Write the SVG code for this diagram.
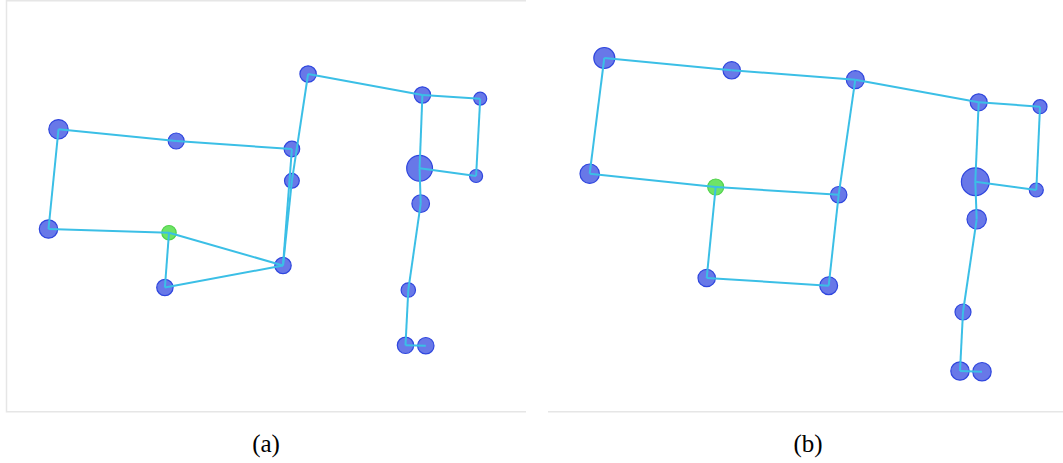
<svg xmlns="http://www.w3.org/2000/svg" width="1063" height="463" viewBox="0 0 1063 463">
<style>
.n{fill:#6878e8;stroke:#2f46de;stroke-width:1.2}
.g{fill:#6ee466;stroke:#52d24c;stroke-width:1.2}
.e{stroke:#3bbfe6;stroke-width:2;fill:none;stroke-linecap:butt}
.frame{stroke:#e6e6e6;stroke-width:1.5;fill:none}
.lbl{font-family:"Liberation Serif","Times New Roman",serif;font-size:25px;fill:#000;text-anchor:middle}
</style>
<rect width="1063" height="463" fill="#fff"/>
<g id="frames">
<polyline class="frame" points="526,0.8 6.5,0.8 6.5,411.7 526,411.7"/>
<line class="frame" x1="548" y1="411.7" x2="1063" y2="411.7"/>
</g>
<g id="panel-a-nodes">
<g id="a1"><circle class="n" cx="58.5" cy="129.3" r="9.7"/></g>
<g id="a2"><circle class="n" cx="176.2" cy="141" r="8"/></g>
<g id="a3"><circle class="n" cx="291.9" cy="149" r="7.8"/></g>
<g id="a4"><circle class="n" cx="291.9" cy="180.8" r="7.4"/></g>
<g id="a5"><circle class="n" cx="308.1" cy="74" r="8.2"/></g>
<g id="a6"><circle class="n" cx="422.4" cy="95" r="8.2"/></g>
<g id="a7"><circle class="n" cx="480.2" cy="98.7" r="6.5"/></g>
<g id="a8"><circle class="n" cx="419.6" cy="168.3" r="12.9"/></g>
<g id="a9"><circle class="n" cx="476.1" cy="176" r="6.5"/></g>
<g id="a10"><circle class="n" cx="420.7" cy="203.7" r="8.8"/></g>
<g id="a11"><circle class="n" cx="408.3" cy="290" r="7.2"/></g>
<g id="a12"><circle class="n" cx="405.5" cy="345.3" r="8.2"/></g>
<g id="a13"><circle class="n" cx="425.8" cy="345.7" r="8.2"/></g>
<g id="a14"><circle class="n" cx="48.5" cy="229" r="9.2"/></g>
<g id="a15"><circle class="g" cx="169" cy="232.7" r="7.2"/></g>
<g id="a16"><circle class="n" cx="164.9" cy="287.5" r="8.2"/></g>
<g id="a17"><circle class="n" cx="283" cy="265.5" r="8.2"/></g>
</g>
<g id="panel-b-nodes">
<g id="b1"><circle class="n" cx="604.3" cy="58" r="10.5"/></g>
<g id="b2"><circle class="n" cx="731.7" cy="70.3" r="8.7"/></g>
<g id="b3"><circle class="n" cx="855.3" cy="79.7" r="9"/></g>
<g id="b4"><circle class="n" cx="978.7" cy="102.3" r="8.5"/></g>
<g id="b5"><circle class="n" cx="1040" cy="106.7" r="7"/></g>
<g id="b6"><circle class="n" cx="975.3" cy="181.7" r="13.9"/></g>
<g id="b7"><circle class="n" cx="1036.3" cy="190" r="7"/></g>
<g id="b8"><circle class="n" cx="976.7" cy="219.3" r="9.7"/></g>
<g id="b9"><circle class="n" cx="963" cy="312" r="8"/></g>
<g id="b10"><circle class="n" cx="960" cy="371" r="9.2"/></g>
<g id="b11"><circle class="n" cx="982" cy="371.7" r="9.2"/></g>
<g id="b12"><circle class="n" cx="589.7" cy="173.7" r="9.7"/></g>
<g id="b13"><circle class="g" cx="715.7" cy="187" r="8"/></g>
<g id="b14"><circle class="n" cx="838.7" cy="194.7" r="8.2"/></g>
<g id="b15"><circle class="n" cx="706.7" cy="278" r="8.7"/></g>
<g id="b16"><circle class="n" cx="828.7" cy="285.7" r="8.9"/></g>
</g>
<g id="connectors">
<line class="e" x1="58.5" y1="129.3" x2="176.2" y2="141"/>
<line class="e" x1="176.2" y1="141" x2="291.9" y2="149"/>
<line class="e" x1="58.5" y1="129.3" x2="48.5" y2="229"/>
<line class="e" x1="48.5" y1="229" x2="169" y2="232.7"/>
<line class="e" x1="169" y1="232.7" x2="164.9" y2="287.5"/>
<line class="e" x1="169" y1="232.7" x2="283" y2="265.5"/>
<line class="e" x1="164.9" y1="287.5" x2="283" y2="265.5"/>
<line class="e" x1="291.9" y1="149" x2="283" y2="265.5"/>
<line class="e" x1="291.9" y1="180.8" x2="283" y2="265.5"/>
<line class="e" x1="308.1" y1="74" x2="291.9" y2="180.8"/>
<line class="e" x1="308.1" y1="74" x2="422.4" y2="95"/>
<line class="e" x1="422.4" y1="95" x2="480.2" y2="98.7"/>
<line class="e" x1="480.2" y1="98.7" x2="476.1" y2="176"/>
<line class="e" x1="476.1" y1="176" x2="419.6" y2="168.3"/>
<line class="e" x1="422.4" y1="95" x2="419.6" y2="168.3"/>
<line class="e" x1="419.6" y1="168.3" x2="420.7" y2="203.7"/>
<line class="e" x1="420.7" y1="203.7" x2="408.3" y2="290"/>
<line class="e" x1="408.3" y1="290" x2="405.5" y2="345.3"/>
<line class="e" x1="405.5" y1="345.3" x2="425.8" y2="345.7"/>
<line class="e" x1="604.3" y1="58" x2="731.7" y2="70.3"/>
<line class="e" x1="731.7" y1="70.3" x2="855.3" y2="79.7"/>
<line class="e" x1="855.3" y1="79.7" x2="978.7" y2="102.3"/>
<line class="e" x1="978.7" y1="102.3" x2="1040" y2="106.7"/>
<line class="e" x1="1040" y1="106.7" x2="1036.3" y2="190"/>
<line class="e" x1="1036.3" y1="190" x2="975.3" y2="181.7"/>
<line class="e" x1="978.7" y1="102.3" x2="975.3" y2="181.7"/>
<line class="e" x1="975.3" y1="181.7" x2="976.7" y2="219.3"/>
<line class="e" x1="976.7" y1="219.3" x2="963" y2="312"/>
<line class="e" x1="963" y1="312" x2="960" y2="371"/>
<line class="e" x1="960" y1="371" x2="982" y2="371.7"/>
<line class="e" x1="604.3" y1="58" x2="589.7" y2="173.7"/>
<line class="e" x1="589.7" y1="173.7" x2="715.7" y2="187"/>
<line class="e" x1="715.7" y1="187" x2="838.7" y2="194.7"/>
<line class="e" x1="838.7" y1="194.7" x2="855.3" y2="79.7"/>
<line class="e" x1="715.7" y1="187" x2="706.7" y2="278"/>
<line class="e" x1="706.7" y1="278" x2="828.7" y2="285.7"/>
<line class="e" x1="828.7" y1="285.7" x2="838.7" y2="194.7"/>
</g>
<g id="labels">
<text class="lbl" x="266" y="452">(a)</text>
<text class="lbl" x="808" y="452">(b)</text>
</g>
</svg>
